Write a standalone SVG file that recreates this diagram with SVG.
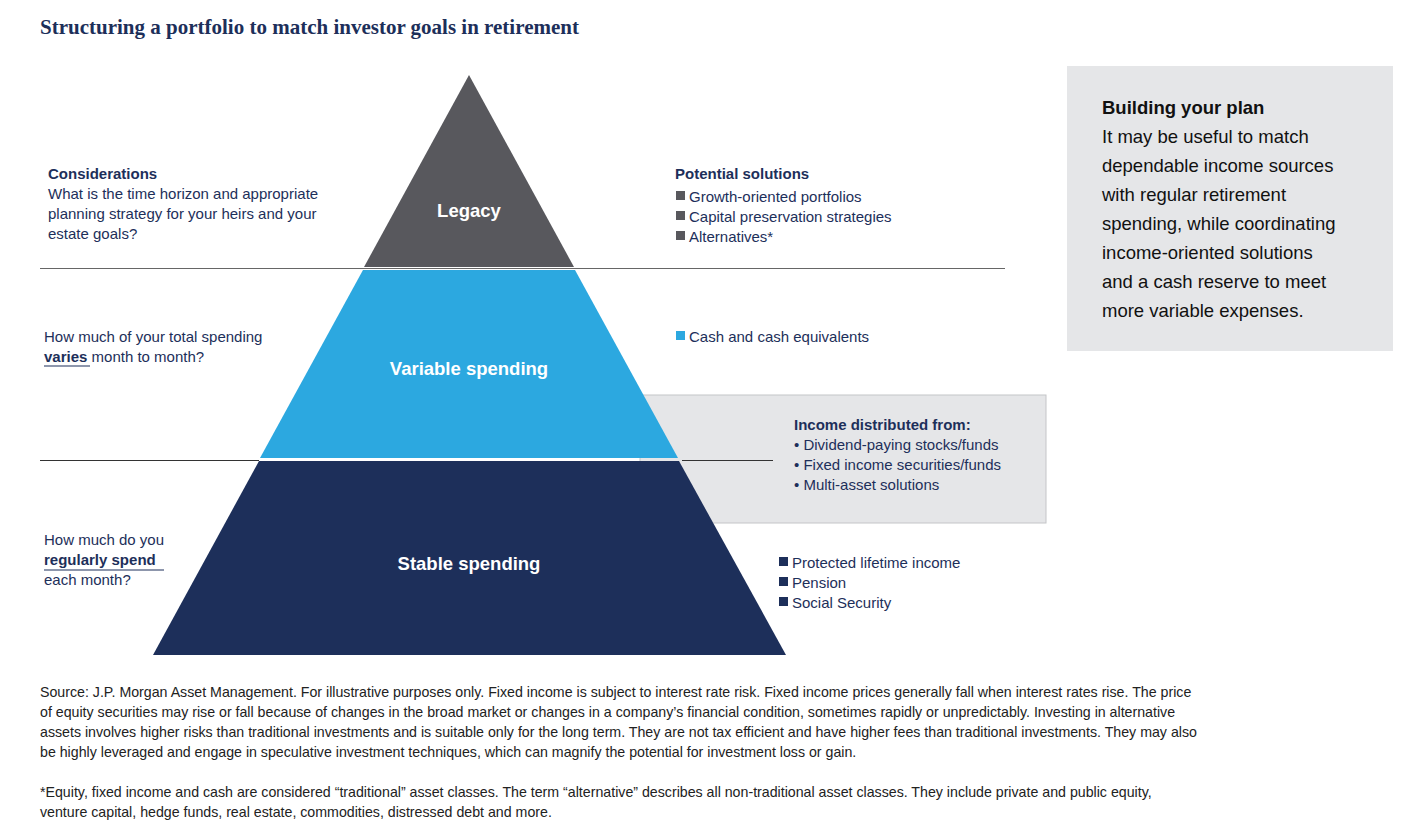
<svg xmlns="http://www.w3.org/2000/svg" width="1425" height="825" viewBox="0 0 1425 825">
<style>
text{font-family:"Liberation Sans",Arial,sans-serif;fill:#1d2f5a;font-size:15px}
.b{font-weight:bold}
.w{fill:#fff;font-weight:bold;font-size:18.5px;text-anchor:middle}
.sm{font-size:14.2px;fill:#222}
.rule{stroke:#666;stroke-width:1.2}
.side{font-size:18.5px;fill:#111}
</style>
<rect width="1425" height="825" fill="#fff"/>
<text x="40" y="34" style="font-family:'Liberation Serif',serif;font-size:21px;font-weight:bold">Structuring a portfolio to match investor goals in retirement</text>
<g id="income-box">
<rect x="640" y="395" width="406" height="128" fill="#e5e6e8" stroke="#c4c5c8" stroke-width="1"/>
<text x="794" y="430" class="b">Income distributed from:</text>
<text x="794" y="450">• Dividend-paying stocks/funds</text>
<text x="794" y="470">• Fixed income securities/funds</text>
<text x="794" y="490">• Multi-asset solutions</text>
</g>
<g id="connectors">
<line class="rule" x1="40" y1="268.5" x2="1005" y2="268.5"/>
<line x1="40" y1="460.5" x2="259" y2="460.5" stroke="#333" stroke-width="1.2"/>
<line x1="682" y1="460.5" x2="773" y2="460.5" stroke="#333" stroke-width="1.2"/>
</g>
<g id="legacy">
<polygon points="469,75 574,267 364,267" fill="#58585d"/>
<text x="469" y="217" class="w">Legacy</text>
</g>
<g id="variable">
<polygon points="363,270 575,270 678,458 260,458" fill="#2ca8e0"/>
<text x="469" y="375" class="w">Variable spending</text>
</g>
<g id="stable">
<polygon points="259,461 679,461 786,655 153,655" fill="#1d2f5a"/>
<text x="469" y="570" class="w">Stable spending</text>
</g>
<g id="considerations">
<text x="48" y="179" class="b">Considerations</text>
<text x="48" y="199">What is the time horizon and appropriate</text>
<text x="48" y="219">planning strategy for your heirs and your</text>
<text x="48" y="239">estate goals?</text>
</g>
<g id="q-variable">
<text x="44" y="342">How much of your total spending</text>
<text x="44" y="362"><tspan class="b">varies</tspan> month to month?</text>
<line x1="44" y1="366" x2="90" y2="366" stroke="#1d2f5a" stroke-width="1.2"/>
</g>
<g id="q-stable">
<text x="44" y="545">How much do you</text>
<text x="44" y="565" class="b">regularly spend</text>
<line x1="44" y1="570" x2="164" y2="570" stroke="#1d2f5a" stroke-width="1.2"/>
<text x="44" y="585">each month?</text>
</g>
<g id="solutions">
<text x="675" y="179" class="b">Potential solutions</text>
<rect x="676" y="191" width="9" height="9" fill="#58585d"/><text x="689" y="202">Growth-oriented portfolios</text>
<rect x="676" y="211" width="9" height="9" fill="#58585d"/><text x="689" y="222">Capital preservation strategies</text>
<rect x="676" y="231" width="9" height="9" fill="#58585d"/><text x="689" y="242">Alternatives*</text>
<rect x="676" y="331" width="9" height="9" fill="#2ca8e0"/><text x="689" y="342">Cash and cash equivalents</text>
<rect x="779" y="557" width="9" height="9" fill="#1d2f5a"/><text x="792" y="568">Protected lifetime income</text>
<rect x="779" y="577" width="9" height="9" fill="#1d2f5a"/><text x="792" y="588">Pension</text>
<rect x="779" y="597" width="9" height="9" fill="#1d2f5a"/><text x="792" y="608">Social Security</text>
</g>
<g id="plan">
<rect x="1067" y="66" width="326" height="285" fill="#e5e6e8"/>
<text x="1102" y="114" class="side b">Building your plan</text>
<text x="1102" y="143" class="side">It may be useful to match</text>
<text x="1102" y="172" class="side">dependable income sources</text>
<text x="1102" y="201" class="side">with regular retirement</text>
<text x="1102" y="230" class="side">spending, while coordinating</text>
<text x="1102" y="259" class="side">income-oriented solutions</text>
<text x="1102" y="288" class="side">and a cash reserve to meet</text>
<text x="1102" y="317" class="side">more variable expenses.</text>
</g>
<g id="footnotes">
<text x="40" y="697" class="sm">Source: J.P. Morgan Asset Management. For illustrative purposes only. Fixed income is subject to interest rate risk. Fixed income prices generally fall when interest rates rise. The price</text>
<text x="40" y="717" class="sm">of equity securities may rise or fall because of changes in the broad market or changes in a company’s financial condition, sometimes rapidly or unpredictably. Investing in alternative</text>
<text x="40" y="737" class="sm">assets involves higher risks than traditional investments and is suitable only for the long term. They are not tax efficient and have higher fees than traditional investments. They may also</text>
<text x="40" y="757" class="sm">be highly leveraged and engage in speculative investment techniques, which can magnify the potential for investment loss or gain.</text>
<text x="40" y="797" class="sm">*Equity, fixed income and cash are considered “traditional” asset classes. The term “alternative” describes all non-traditional asset classes. They include private and public equity,</text>
<text x="40" y="817" class="sm">venture capital, hedge funds, real estate, commodities, distressed debt and more.</text>
</g>
</svg>
